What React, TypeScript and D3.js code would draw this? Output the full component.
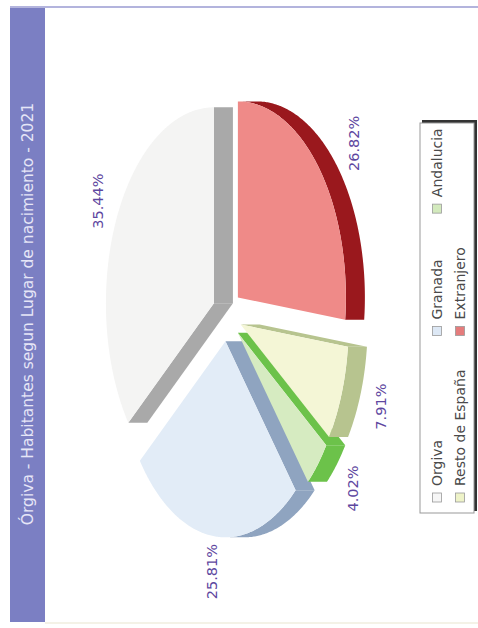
import React from 'react';
import * as d3 from 'd3';

// chart data
const title = 'Órgiva - Habitantes segun Lugar de nacimiento - 2021';
const categories = ['Orgiva', 'Granada', 'Andalucia', 'Resto de España', 'Extranjero'];
const shares = [35.44, 25.81, 4.02, 7.91, 26.82];
const shareLabels = ['35.44%', '25.81%', '4.02%', '7.91%', '26.82%'];

const topColors = ['#f4f4f3', '#e2ecf7', '#d6ebc1', '#f4f6d6', '#ef8a88'];
const sideColors = ['#a9a9a9', '#8fa4c0', '#6cc24a', '#b7c48f', '#9a181d'];
const swatchColors = ['#f6f6f6', '#dde8f5', '#d3eabd', '#eef3c8', '#e57c7c'];

// the chart is drawn in a 628x478 frame, then turned a quarter anticlockwise
const W = 628;
const H = 478;

const FONT = 'DejaVu Sans, Verdana, sans-serif';
const LEGEND_SIZE = 14;

function textWidth(s: string, size: number) {
  if (typeof document === 'undefined') return s.length * size * 0.55;
  const ctx = document.createElement('canvas').getContext('2d');
  if (!ctx) return s.length * size * 0.55;
  ctx.font = `${size}px ${FONT}`;
  return ctx.measureText(s).width;
}

export default function App() {
  const cx = 313;
  const cy = 227;
  const rx = 196;
  const ry = 108;
  const depth = 19;
  const explode = 0.135;

  const pie = d3
    .pie<number>()
    .value(d => d)
    .sort(null)
    .startAngle(Math.PI / 2)
    .endAngle(Math.PI / 2 - 2 * Math.PI);

  const line = d3.line<[number, number]>();

  const slices = pie(shares).map((a, i) => {
    const t1 = a.endAngle - Math.PI / 2 + 2 * Math.PI;
    const t2 = a.startAngle - Math.PI / 2 + 2 * Math.PI;
    const m = (t1 + t2) / 2;
    const ax = cx + explode * rx * Math.cos(m);
    const ay = cy + explode * ry * Math.sin(m);
    const rim = (t: number, dz = 0): [number, number] => [
      ax + rx * Math.cos(t),
      ay + ry * Math.sin(t) + dz,
    ];
    const sweep = (s: number, e: number) => d3.range(s, e, 0.01).concat([e]);

    const top = line([[ax, ay], ...sweep(t1, t2).map(t => rim(t))]) + 'Z';

    const walls: string[] = [];
    const radial = (t: number) =>
      line([[ax, ay], rim(t), rim(t, depth), [ax, ay + depth]]) + 'Z';
    if (Math.cos(t1) < 0) walls.push(radial(t1));
    if (Math.cos(t2) > 0) walls.push(radial(t2));
    const fa = Math.max(t1, 0);
    const fb = Math.min(t2, Math.PI);
    if (fb > fa) {
      const pts = sweep(fa, fb);
      walls.push(
        line([
          ...pts.map(t => rim(t)),
          ...pts.slice().reverse().map(t => rim(t, depth)),
        ]) + 'Z'
      );
    }

    const lx = cx + 258 * Math.cos(m);
    const ly = cy + 144 * Math.sin(m) + (Math.sin(m) > 0 ? depth : 0);

    return { i, m, top, walls, lx, ly };
  });

  const order = slices.slice().sort((a, b) => Math.sin(a.m) - Math.sin(b.m));

  // legend: 3 columns, each as wide as its longest entry
  const nCols = 3;
  const colW = d3.range(nCols).map(c =>
    d3.max(categories.filter((_, i) => i % nCols === c), s => textWidth(s, LEGEND_SIZE)) || 0
  );
  const colX: number[] = [];
  colX[0] = 126;
  for (let c = 1; c < nCols; c++) colX[c] = colX[c - 1] + 16 + colW[c - 1] + 34;
  const rowY = d3.scaleLinear().domain([0, 1]).range([437, 460]);

  return (
    <svg
      width={H}
      height={W}
      style={{ position: 'absolute', left: 0, top: 0, background: '#fff' }}
    >
      <rect width={H} height={W} fill="#fff" />
      <g transform={`translate(0,${W}) rotate(-90)`}>
        {/* frame */}
        <line x1={621} x2={621} y1={10} y2={H} stroke="#9a9bd2" strokeWidth={1.5} />
        <line x1={5} x2={5} y1={45} y2={H} stroke="#f1eedf" strokeWidth={1.5} />
        <rect x={6} y={10} width={614} height={35} fill="#7b7fc3" />
        <text
          x={W / 2}
          y={28}
          textAnchor="middle"
          dy="0.35em"
          fontFamily={FONT}
          fontSize={15.5}
          fill="#e6e6f7"
        >
          {title}
        </text>

        {/* slices */}
        {order.map(s => (
          <g key={categories[s.i]}>
            {s.walls.map((w, k) => (
              <path key={k} d={w} fill={sideColors[s.i]} />
            ))}
            <path d={s.top} fill={topColors[s.i]} />
          </g>
        ))}

        {slices.map(s => (
          <text
            key={'l' + s.i}
            x={s.lx}
            y={s.ly}
            dy="0.35em"
            textAnchor="middle"
            fontFamily={FONT}
            fontSize={14.5}
            fill="#5e47a0"
          >
            {shareLabels[s.i]}
          </text>
        ))}

        {/* legend */}
        <rect x={117} y={422} width={391} height={55} fill="#333" />
        <rect x={115} y={420} width={390} height={54} fill="#fff" stroke="#999" strokeWidth={1} />
        {categories.map((c, i) => {
          const x = colX[i % nCols];
          const y = rowY(Math.floor(i / nCols));
          return (
            <g key={c}>
              <rect
                x={x}
                y={y - 4.5}
                width={9}
                height={9}
                fill={swatchColors[i]}
                stroke="#9a9a9a"
                strokeWidth={0.8}
              />
              <text
                x={x + 16}
                y={y}
                dy="0.35em"
                fontFamily={FONT}
                fontSize={LEGEND_SIZE}
                fill="#4a4a4a"
              >
                {c}
              </text>
            </g>
          );
        })}
      </g>
    </svg>
  );
}
